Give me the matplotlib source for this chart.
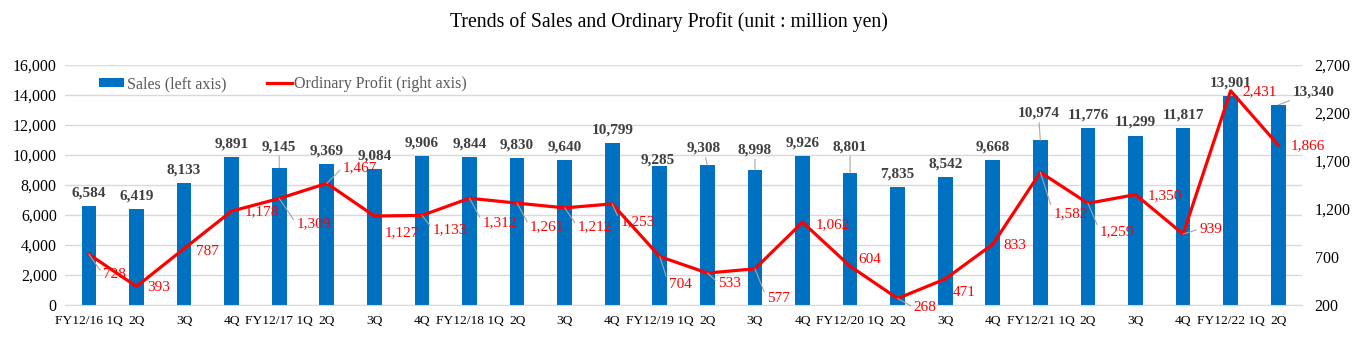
from matplotlib import pyplot as plt
import numpy as np

plt.rcParams['font.family'] = ['Liberation Serif', 'DejaVu Serif']

quarters = ['FY12/16 1Q', '2Q', '3Q', '4Q',
            'FY12/17 1Q', '2Q', '3Q', '4Q',
            'FY12/18 1Q', '2Q', '3Q', '4Q',
            'FY12/19 1Q', '2Q', '3Q', '4Q',
            'FY12/20 1Q', '2Q', '3Q', '4Q',
            'FY12/21 1Q', '2Q', '3Q', '4Q',
            'FY12/22 1Q', '2Q']
sales = [6584, 6419, 8133, 9891, 9145, 9369, 9084, 9906, 9844, 9830, 9640, 10799, 9285,
         9308, 8998, 9926, 8801, 7835, 8542, 9668, 10974, 11776, 11299, 11817, 13901, 13340]
profit = [728, 393, 787, 1178, 1309, 1467, 1127, 1133, 1312, 1261, 1212, 1253, 704,
          533, 577, 1062, 604, 268, 471, 833, 1582, 1259, 1350, 939, 2431, 1866]

# label placement (pixels: dx right, dy up), leader flag
sales_offsets = [(0, 13)] * 26
sales_offsets[4] = (0, 21)
sales_offsets[12] = (-2, 6)
sales_offsets[13] = (-4, 17)
sales_offsets[14] = (0, 20)
sales_offsets[16] = (0, 26)
sales_offsets[20] = (-2, 27)
sales_offsets[25] = (35, 13)
sales_leaders = {4, 13, 14, 16, 20, 25}

profit_offsets = [(14, -20), (11, -1), (12, -3), (13, -1), (17, -25), (16, 16), (10, -17), (11, -14),
                  (13, -24), (13, -24), (13, -19), (8, -18), (9, -28), (11, -10), (12, -30), (13, -2),
                  (8, 7), (16, -9), (8, -14), (11, -1), (13, -41), (12, -28), (12, -1), (16, 5),
                  (12, -1), (12, -1)]
profit_leaders = {0, 4, 5, 7, 8, 9, 10, 11, 12, 13, 14, 17, 20, 21, 23}

BLUE = '#0070C0'
RED = '#FF0000'
GRID = '#D9D9D9'
LEADER = '#A6A6A6'

fig = plt.figure(figsize=(13.57, 3.39), dpi=100)
ax = fig.add_axes([0.048, 0.1003, 0.9115, 0.708])
ax2 = ax.twinx()

x = np.arange(len(quarters))
ax.bar(x, sales, width=0.31, color=BLUE, label='Sales (left axis)', zorder=2)
ax2.plot(x, profit, color=RED, lw=2.3, label='Ordinary Profit (right axis)', zorder=3)

ax.set_xlim(-0.5, len(quarters) - 0.5)
ax.set_ylim(0, 16000)
ax.set_yticks(range(0, 16001, 2000))
ax.set_yticklabels([f'{v:,}' for v in range(0, 16001, 2000)])
ax2.set_ylim(200, 2700)
ax2.set_yticks(range(200, 2701, 500))
ax2.set_yticklabels([f'{v:,}' for v in range(200, 2701, 500)])
ax.set_xticks(x)
ax.set_xticklabels(quarters, fontsize=9.7)

ax.grid(axis='y', color=GRID, lw=1, zorder=0)
for a in (ax, ax2):
    for s in a.spines.values():
        s.set_visible(False)
ax.spines['bottom'].set_visible(True)
ax.spines['bottom'].set_color(GRID)
ax.tick_params(axis='y', length=0, labelsize=11.5, colors='black', pad=6)
ax.tick_params(axis='x', length=0, colors='black', pad=7)
ax2.tick_params(axis='y', length=0, labelsize=11.5, pad=9)

for i, v in enumerate(sales):
    dx, dy = sales_offsets[i]
    arrow = dict(arrowstyle='-', color=LEADER, lw=0.8, shrinkA=0, shrinkB=0) if i in sales_leaders else None
    ax.annotate(f'{v:,}', (x[i], v), xytext=(dx, dy), textcoords='offset pixels',
                ha='center', va='center', fontsize=11, fontweight='bold', color='#404040',
                arrowprops=arrow, zorder=4)

for i, v in enumerate(profit):
    dx, dy = profit_offsets[i]
    arrow = dict(arrowstyle='-', color=LEADER, lw=0.8, shrinkA=0, shrinkB=0,
                 relpos=(0, 0.5)) if i in profit_leaders else None
    ax2.annotate(f'{v:,}', (x[i], v), xytext=(dx, dy), textcoords='offset pixels',
                 ha='left', va='center', fontsize=11, color=RED,
                 arrowprops=arrow, zorder=4)

h1, l1 = ax.get_legend_handles_labels()
h2, l2 = ax2.get_legend_handles_labels()
leg = ax2.legend(h1 + h2, l1 + l2, ncol=2, loc='upper left', bbox_to_anchor=(0.016, 1.012),
                 frameon=False, fontsize=11.5, handlelength=1.56, handleheight=0.45,
                 handletextpad=0.15, columnspacing=2.55, labelcolor='#595959')

fig.text(0.493, 1 - 22 / 339, 'Trends of Sales and Ordinary Profit (unit : million yen)',
         ha='center', va='center', fontsize=14.2, color='black')

fig.savefig('out.png', dpi=100)
